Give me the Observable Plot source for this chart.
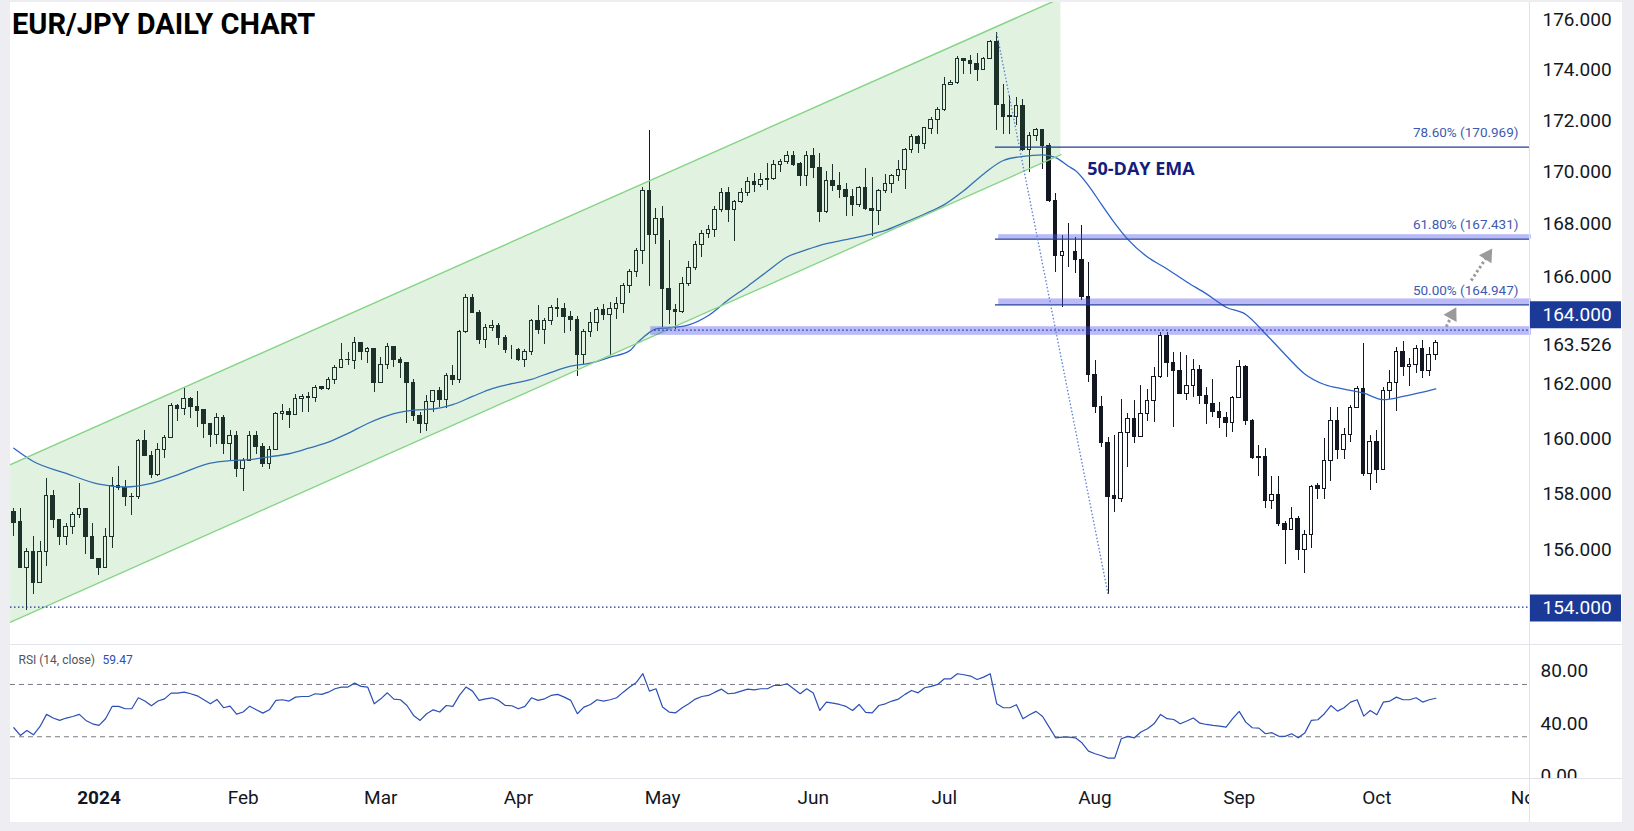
<!DOCTYPE html>
<html>
<head>
<meta charset="utf-8">
<script src="https://cdn.jsdelivr.net/npm/d3@7"></script>
<script src="https://cdn.jsdelivr.net/npm/@observablehq/plot@0.6"></script>
<style>
  html, body { margin:0; padding:0; background:#eeeef2; }
  #wrap { position:relative; width:1634px; height:831px; overflow:hidden; background:#eeeef2; }
  #panel { position:absolute; left:10px; top:2px; width:1612px; height:820px; background:#fff; }
  #main, #rsi { position:absolute; left:10px; }
  #main { top:2px; }
  #rsi { top:644px; }
  .hl { position:absolute; left:10px; width:1612px; height:1px; background:#e0e3eb; }
  .vl { position:absolute; left:1529px; top:2px; width:1px; height:820px; background:#e0e3eb; }
  #mask { position:absolute; left:1530px; top:779px; width:92px; height:43px; background:#fff; }
  #title { position:absolute; left:12px; top:8px; font:700 29px Roboto, sans-serif; color:#000; line-height:32px; white-space:nowrap; }
</style>
</head>
<body>
<div id="wrap">
  <div id="panel"></div>
  <div id="main"></div>
  <div id="rsi"></div>
  <div class="hl" style="top:644px"></div>
  <div class="hl" style="top:778px"></div>
  <div class="vl"></div>
  <div id="mask"></div>
  <div id="title">EUR/JPY DAILY CHART</div>
</div>
<script>
// ---------------- DATA ----------------
// bar index 0 = 2 Jan 2024 (daily bars, weekdays)
const startIndex = -13;
const opens = [
157.36,156.99,155.39,155.95,154.86,155.95,157.95,157.07,156.46,156.83,
157.24,157.48,156.46,155.68,155.36,156.48,158.31,158.24,157.90,157.90,
159.93,159.37,158.69,159.60,160.04,161.21,161.10,161.46,161.17,161.04,
160.55,160.15,160.77,159.80,160.09,158.91,159.21,160.09,159.70,159.09,
159.60,160.89,160.99,160.87,161.46,161.54,161.48,161.88,161.82,162.14,
162.60,162.90,162.87,163.53,163.20,163.30,162.05,162.71,163.38,162.91,
162.79,162.05,160.84,160.55,161.35,161.74,161.43,162.30,162.16,163.92,
165.21,164.65,163.65,164.09,164.16,163.72,163.27,163.27,162.90,163.19,
164.35,164.02,164.35,164.84,164.80,164.51,164.39,163.07,163.92,164.28,
164.77,164.58,164.79,164.99,165.66,166.19,166.99,169.29,167.60,168.19,
165.54,164.76,164.68,165.74,166.34,167.21,167.64,167.79,168.55,169.21,
168.55,168.84,169.20,169.63,169.50,169.74,169.74,170.28,170.40,170.63,
170.30,169.84,170.63,170.15,168.46,169.67,169.48,169.32,169.06,168.73,
169.40,168.60,168.50,169.28,169.56,169.84,170.10,170.84,171.35,171.10,
171.69,172.04,172.40,173.41,173.47,174.41,174.34,174.24,174.01,174.43,
175.11,172.60,172.15,172.15,172.56,170.87,171.40,171.63,171.00,168.89,
166.80,166.95,166.95,166.65,165.24,162.35,161.18,159.86,157.92,157.82,
160.22,160.73,160.06,160.92,161.40,162.25,163.79,162.79,162.50,161.65,
161.92,162.53,161.56,161.28,160.98,160.77,160.59,161.48,162.62,160.64,
159.30,159.36,157.74,157.98,156.95,156.73,157.10,156.02,156.53,158.28,
158.20,159.18,160.64,159.58,160.13,161.13,161.83,158.74,159.88,158.89,
161.74,162.04,163.18,162.64,162.71,163.30,162.50,163.09];
const highs = [
157.48,157.48,156.07,156.48,156.30,158.56,158.14,157.10,156.95,157.35,
158.38,157.48,156.95,155.68,156.77,158.60,159.01,158.50,158.02,159.99,
160.31,159.55,159.82,160.13,161.28,161.25,161.88,161.50,161.73,161.06,
160.55,160.92,160.84,160.31,160.27,159.28,160.27,160.27,159.82,159.73,
160.98,161.25,161.10,161.61,161.61,161.71,161.95,161.92,162.24,162.69,
163.50,163.18,163.74,163.53,163.36,163.30,162.99,163.50,163.40,162.97,
162.81,162.18,160.96,161.57,161.77,161.89,162.38,162.69,163.99,165.34,
165.34,164.74,164.21,164.36,164.24,163.81,163.44,163.32,163.27,164.39,
164.92,164.44,164.92,165.17,164.99,164.69,164.50,164.02,164.65,164.84,
164.96,165.04,165.21,165.76,166.28,167.07,169.42,171.62,168.60,168.68,
167.38,164.95,165.96,166.58,167.34,167.75,167.94,168.68,169.35,169.40,
168.91,169.35,169.78,169.93,169.93,170.32,170.45,170.50,170.79,170.79,
170.39,170.79,170.90,170.71,170.02,170.28,169.97,169.55,169.32,169.44,
170.14,169.80,169.32,169.91,169.91,170.45,170.92,171.46,171.42,171.75,
172.11,172.50,173.70,173.58,174.52,174.45,174.56,174.66,174.49,175.16,
175.465,173.42,172.95,172.92,172.82,171.52,171.69,171.63,171.10,169.19,
167.57,168.01,167.50,167.95,166.53,162.87,161.56,160.06,160.13,161.44,
160.92,161.40,161.95,161.80,162.62,163.90,163.90,163.18,163.18,163.06,
162.90,162.69,161.89,162.16,161.34,160.98,161.56,162.87,162.69,160.70,
159.76,159.64,158.62,158.62,157.04,157.54,157.19,156.69,158.32,158.38,
160.00,161.15,161.15,160.37,161.21,161.92,163.50,160.13,160.31,161.89,
162.50,163.36,163.59,162.94,163.43,163.62,163.36,163.62];
const lows = [
156.50,155.39,153.87,154.44,154.86,155.41,156.79,156.16,156.16,156.57,
157.13,155.86,155.68,155.10,155.36,156.08,158.14,157.56,157.22,157.81,
159.37,158.56,158.64,159.28,160.00,160.64,160.84,160.75,160.43,160.00,
159.70,159.81,159.44,159.22,158.60,158.08,159.17,159.42,158.98,158.90,
159.58,160.67,160.39,160.86,160.95,160.95,161.34,161.77,161.77,161.98,
162.59,162.69,162.55,162.87,162.77,161.71,162.02,162.56,162.62,162.22,
160.57,160.64,160.21,160.28,160.96,161.14,161.10,161.95,162.02,163.87,
164.61,163.47,163.33,163.96,163.45,163.14,162.90,162.85,162.62,163.07,
163.84,163.47,164.19,164.49,163.89,163.96,162.30,162.73,163.72,163.94,
164.37,163.05,164.40,164.64,165.39,165.96,166.47,165.65,167.24,164.09,
164.21,164.04,164.61,165.65,166.25,166.75,167.44,167.50,168.46,168.08,
167.35,168.78,169.07,169.22,169.40,169.29,169.68,170.00,170.30,170.23,
169.46,169.46,169.74,168.05,168.42,169.25,168.99,168.30,168.30,168.65,
168.53,167.54,167.95,169.16,169.16,169.65,169.33,170.74,170.74,170.89,
171.46,171.46,172.37,173.38,173.42,173.81,173.83,173.55,174.01,174.43,
171.60,171.46,171.46,171.80,170.81,170.00,171.20,170.09,168.84,166.15,
164.86,166.34,166.12,165.11,162.08,160.92,159.70,154.43,157.33,157.70,
158.98,159.82,160.06,160.64,160.61,162.22,162.26,160.43,161.61,161.40,
161.52,161.25,160.53,160.79,160.37,160.04,160.22,161.46,160.49,159.25,
158.62,157.48,157.46,156.83,155.51,156.71,155.65,155.18,156.06,157.81,
157.81,158.46,159.24,159.24,159.88,161.10,158.62,158.14,158.40,158.86,
161.43,161.01,162.28,161.92,162.38,162.20,162.28,162.87];
const closes = [
156.97,155.39,155.95,154.85,155.95,157.95,157.07,156.46,156.83,157.24,
157.48,156.46,155.68,155.36,156.48,158.31,158.24,157.90,157.91,159.93,
159.37,158.69,159.60,160.04,161.21,161.09,161.46,161.16,161.01,160.55,
160.15,160.77,159.80,160.09,158.91,159.21,160.09,159.70,159.09,159.60,
160.92,160.98,160.87,161.46,161.54,161.48,161.87,161.83,162.14,162.60,
162.90,162.91,163.53,163.20,163.30,162.04,162.71,163.38,162.90,162.79,
162.05,160.84,160.55,161.35,161.74,161.43,162.30,162.16,163.92,165.21,
164.65,163.65,164.10,164.16,163.72,163.27,163.27,162.90,163.19,164.35,
164.02,164.35,164.84,164.79,164.49,164.37,163.07,163.92,164.28,164.76,
164.58,164.79,164.99,165.67,166.19,166.99,169.29,167.60,168.19,165.54,
164.76,164.68,165.74,166.34,167.21,167.64,167.79,168.55,169.21,168.55,
168.86,169.20,169.63,169.50,169.71,169.71,170.28,170.40,170.63,170.27,
169.84,170.63,170.15,168.46,169.67,169.46,169.30,169.04,168.73,169.40,
168.58,168.50,169.28,169.56,169.84,170.10,170.84,171.35,171.10,171.70,
172.04,172.40,173.41,173.49,174.41,174.34,174.24,174.01,174.43,175.11,
172.60,172.15,172.17,172.56,170.87,171.40,171.63,171.00,168.89,166.78,
166.95,166.95,166.65,165.24,162.35,161.18,159.86,157.90,157.82,160.22,
160.73,160.06,160.92,161.40,162.25,163.79,162.79,162.50,161.65,161.92,
162.53,161.56,161.28,160.98,160.77,160.59,161.48,162.62,160.64,159.30,
159.36,157.74,157.98,156.95,156.73,157.10,156.02,156.53,158.26,158.20,
159.18,160.64,159.58,160.13,161.13,161.83,158.74,159.88,158.89,161.74,
162.04,163.18,162.64,162.71,163.30,162.50,163.09,163.526];

// 50-day EMA (bar index, value)
const emaIdx = [-13,-10,-5,0,4,8,12,17,20,23,26,29,32,35,38,41,45,48,51,54,57,60,63,66,69,72,75,78,81,82,
83,84,85,87,90,93,96,99,102,105,108,111,114,117,120,123,126,129,132,135,138,141,144,146,148,149,151,153,155,157,
160,163,166,169,172,175,178,181,184,187,190,193,196,199,202,204];
const emaVal = [159.66,159.18,158.75,158.36,158.26,158.39,158.70,159.12,159.21,159.25,159.35,159.46,159.66,159.88,160.20,160.56,160.92,161.05,161.09,161.25,
161.55,161.84,162.02,162.18,162.44,162.67,162.78,163.00,163.24,163.50,163.72,163.92,164.05,164.09,164.20,164.55,165.13,165.65,166.21,166.75,
167.03,167.26,167.41,167.57,167.76,168.07,168.39,168.75,169.29,169.93,170.45,170.61,170.67,170.56,170.22,170.06,169.48,168.75,168.04,167.42,
166.75,166.30,165.81,165.36,164.86,164.59,163.87,163.10,162.38,161.99,161.82,161.67,161.43,161.55,161.71,161.83];

// RSI(14) per bar, from startIndex
const rsiVal = [
36.9,31.0,34.8,31.5,37.9,47.1,44.3,42.5,44.3,45.5,
47.1,42.5,39.9,38.7,43.8,53.2,53.2,51.4,51.4,59.8,
57.3,53.7,57.3,59.0,63.4,63.4,64.1,62.9,61.3,58.3,
55.2,58.5,52.2,53.4,47.3,48.9,53.4,50.6,48.1,50.6,
57.8,58.3,57.3,60.3,60.8,60.8,62.9,62.4,64.1,66.7,
68.0,68.0,71.0,68.5,68.0,55.2,59.0,63.6,58.8,58.3,
53.9,46.3,42.5,47.6,50.6,48.9,53.9,53.2,61.6,68.0,
64.9,57.8,59.0,59.8,57.8,53.9,53.7,51.4,53.2,59.8,
57.8,59.0,61.6,62.4,60.3,57.8,47.6,52.7,54.7,58.3,
57.3,58.3,59.8,64.1,68.0,71.5,78.2,64.9,66.7,52.7,
48.9,48.3,52.2,55.2,58.8,60.8,61.6,64.1,66.4,62.9,
63.4,64.9,66.4,65.9,66.7,66.7,69.2,69.2,70.5,66.7,
62.9,66.7,63.4,50.1,
56.5,55.7,54.7,53.2,50.1,54.7,48.6,48.3,53.9,55.2,
57.3,58.8,62.4,65.4,63.6,67.5,68.5,70.0,74.3,74.3,
78.2,77.4,76.4,73.8,75.6,78.2,55.2,52.2,52.2,54.5,
43.8,46.8,49.4,45.5,37.4,29.2,29.7,29.7,29.2,25.4,
19.0,17.0,15.5,13.7,13.7,28.5,30.3,29.2,33.6,36.1,
39.9,47.1,43.8,43.2,39.9,42.0,44.3,40.4,39.4,38.7,
38.2,37.4,43.8,49.4,41.2,36.9,36.6,32.3,33.1,30.5,
30.3,32.3,29.2,32.8,42.5,43.0,47.6,53.9,49.6,52.2,
56.5,58.3,45.8,50.1,46.8,56.5,57.3,60.3,58.3,58.3,
59.8,56.5,58.3,59.47];

// x-axis: first bar of each month
const monthIdx = [0,22,43,64,86,109,129,152,174,195,218];
const monthLbl = ["2024","Feb","Mar","Apr","May","Jun","Jul","Aug","Sep","Oct","Nov"];

// price axis ticks
const priceTicks = [156,158,160,162,166,168,170,172,174,176];
const rsiTicks = [0,40,80];
const lastPrice = 163.526;
const rsiLast = "59.47";

// drawings
const channelIdx = [-13.5, 146.8];
const channelLo = [153.47, 170.68];
const channelHi = [159.07, 176.86];
const fibLabels = ["78.60% (170.969)","61.80% (167.431)","50.00% (164.947)"];
const fibPrices = [170.969, 167.431, 164.947];
const fibBandTop = [null, 167.60, 165.17];
const fibStart = 136.8, fibBandStart = 137.3;
const zoneLo = 163.81, zoneHi = 164.13, zoneStart = 84.2, zoneLevel = 164.0, zoneLineStart = 84.8;
const supportLevel = 154.0;
const swingIdx = [137, 154];
const swingPrice = [175.465, 154.43];
const arrowFromIdx = [205.6, 209.4], arrowFromPrice = [164.13, 165.86];
const arrowToIdx = [206.5, 211.9], arrowToPrice = [164.58, 166.80];
const arrowAngle = [29, 33];
const emaLabel = {text: "50-DAY EMA", i: 150.8, price: 170.10};

// ---------------- BUILD ----------------
const INK = "#131722";
const X0 = -13.505, X1 = 218.30;
const candles = opens.map((o, k) => ({i: startIndex + k, open: o, high: highs[k], low: lows[k], close: closes[k]}));
const up = candles.filter(d => d.close >= d.open);
const down = candles.filter(d => d.close < d.open);
const ema = emaIdx.map((i, k) => ({i, v: emaVal[k]}));
const rsi = rsiVal.map((v, k) => ({i: startIndex + k, v}));
const channel = channelIdx.map((i, k) => ({i, lo: channelLo[k], hi: channelHi[k]}));
const fibs = fibPrices.map((p, k) => ({price: p, label: fibLabels[k], start: fibStart, end: X1}));
const bands = fibBandTop.map((t, k) => t == null ? null : {lo: fibPrices[k], hi: t, start: fibBandStart, end: X1 + 0.3}).filter(d => d);
bands.push({lo: zoneLo, hi: zoneHi, start: zoneStart, end: X1 + 0.3});
const dotted = [{price: zoneLevel, start: zoneLineStart, end: X1}, {price: supportLevel, start: X0, end: X1}];
const swing = [{x1: swingIdx[0], y1: swingPrice[0], x2: swingIdx[1], y2: swingPrice[1]}];
const arrows = arrowFromIdx.map((x, k) => ({x1: x, y1: arrowFromPrice[k], x2: arrowToIdx[k], y2: arrowToPrice[k], a: arrowAngle[k]}));
const boxSym = {draw(ctx) { ctx.moveTo(-45.5, -13.5); ctx.lineTo(45.5, -13.5); ctx.lineTo(45.5, 13.5); ctx.lineTo(-45.5, 13.5); ctx.closePath(); }};
const box164 = [{price: zoneLevel, at: X1, label: zoneLevel.toFixed(3)}];
const box154 = [{price: supportLevel, at: X1, label: supportLevel.toFixed(3)}];
const BOX = "#1b3a98";

const main = Plot.plot({
  width: 1612, height: 642,
  marginLeft: 0, marginRight: 93, marginTop: 0, marginBottom: 0,
  x: {domain: [X0, X1], axis: null},
  y: {type: "log", domain: [152.695, 176.681], axis: null},
  style: {background: "transparent", color: INK, fontFamily: "Roboto, sans-serif", overflow: "visible"},
  marks: [
    Plot.ruleX(candles, {x: "i", y1: "low", y2: "high", stroke: INK, strokeWidth: 1, shapeRendering: "crispEdges"}),
    Plot.rect(up, {x1: d => d.i - 0.27, x2: d => d.i + 0.27, y1: "open", y2: "close", fill: "#ffffff", stroke: INK, strokeWidth: 1, shapeRendering: "crispEdges"}),
    Plot.rect(down, {x1: d => d.i - 0.27, x2: d => d.i + 0.27, y1: "open", y2: "close", fill: INK, stroke: INK, strokeWidth: 1, shapeRendering: "crispEdges"}),
    Plot.line(ema, {x: "i", y: "v", stroke: "#2f63c8", strokeWidth: 1.3, curve: "monotone-x"}),
    Plot.areaY(channel, {x: "i", y1: "lo", y2: "hi", fill: "#4caf50", fillOpacity: 0.17, clip: true}),
    Plot.line(channel, {x: "i", y: "lo", stroke: "#86d486", strokeWidth: 1.4, clip: true}),
    Plot.line(channel, {x: "i", y: "hi", stroke: "#86d486", strokeWidth: 1.4, clip: true}),
    Plot.rect(bands, {x1: "start", x2: "end", y1: "lo", y2: "hi", fill: "#5052eb", fillOpacity: 0.4}),
    Plot.ruleY(fibs, {y: "price", x1: "start", x2: "end", stroke: "#1e3c96", strokeWidth: 1.3}),
    Plot.ruleY(dotted, {y: "price", x1: "start", x2: "end", stroke: "#1a2f9a", strokeWidth: 1.3, strokeDasharray: "1.5,2.5"}),
    Plot.link(swing, {x1: "x1", y1: "y1", x2: "x2", y2: "y2", stroke: "#5a7fd6", strokeWidth: 1.3, strokeDasharray: "1.5,2"}),
    Plot.link(arrows, {x1: "x1", y1: "y1", x2: "x2", y2: "y2", stroke: "#9a9a9a", strokeWidth: 3, strokeDasharray: "2.5,2.5"}),
    Plot.dot(arrows, {x: "x2", y: "y2", symbol: "triangle", r: 5.5, fill: "#9a9a9a", rotate: "a"}),
    Plot.text([emaLabel], {x: "i", y: "price", text: "text", textAnchor: "start", fontSize: 18, fontWeight: 700, fill: "#141c7c", fontFamily: "Open Sans, sans-serif"}),
    Plot.text(fibs, {y: "price", text: "label", frameAnchor: "right", textAnchor: "end", dx: -11, dy: -14.5, fontSize: 13.5, fill: "#3d5ab0"}),
    Plot.axisY(priceTicks, {anchor: "right", tickSize: 0, tickPadding: 13, tickFormat: d => d.toFixed(3), fontSize: 19, label: null}),
    Plot.text([lastPrice], {x: () => X1, y: d => d, text: d => d.toFixed(3), textAnchor: "start", dx: 13, dy: 1.5, fontSize: 19, fill: INK}),
    Plot.dot(box164, {x: "at", y: "price", dx: 46, dy: -15.5, symbol: boxSym, r: 1, fill: BOX}),
    Plot.text(box164, {x: "at", y: "price", text: "label", textAnchor: "start", dx: 13, dy: -15.5, fontSize: 19, fill: "#ffffff"}),
    Plot.dot(box154, {x: "at", y: "price", dx: 46, dy: 1, symbol: boxSym, r: 1, fill: BOX}),
    Plot.text(box154, {x: "at", y: "price", text: "label", textAnchor: "start", dx: 13, dy: 1, fontSize: 19, fill: "#ffffff"})
  ]
});
document.getElementById("main").append(main);

const months = monthIdx.map((i, k) => ({i, label: monthLbl[k]}));
const rsiPlot = Plot.plot({
  width: 1612, height: 178,
  marginLeft: 0, marginRight: 93, marginTop: 0, marginBottom: 44,
  x: {domain: [X0, X1], axis: null},
  y: {domain: [-1.91, 100.54], axis: null},
  style: {background: "transparent", color: INK, fontFamily: "Roboto, sans-serif", overflow: "visible"},
  marks: [
    Plot.ruleY([70, 30], {stroke: "#787b86", strokeWidth: 1, strokeDasharray: "5,4"}),
    Plot.line(rsi, {x: "i", y: "v", stroke: "#2b4fb5", strokeWidth: 1.2}),
    Plot.axisY(rsiTicks, {anchor: "right", tickSize: 0, tickPadding: 11, tickFormat: d => d.toFixed(2), fontSize: 19, label: null}),
    Plot.text(months.slice(1), {x: "i", text: "label", frameAnchor: "bottom", dy: 25.5, fontSize: 19, fill: INK}),
    Plot.text(months.slice(0, 1), {x: "i", text: "label", frameAnchor: "bottom", dy: 25.5, fontSize: 19, fontWeight: 700, fill: INK}),
    Plot.text(["RSI (14, close)"], {frameAnchor: "top-left", textAnchor: "start", dx: 8, dy: 10.5, fontSize: 12, fill: "#50535e"}),
    Plot.text([rsiLast], {frameAnchor: "top-left", textAnchor: "start", dx: 92, dy: 10.5, fontSize: 12, fill: "#2b4fb5"})
  ]
});
document.getElementById("rsi").append(rsiPlot);
</script>
</body>
</html>
